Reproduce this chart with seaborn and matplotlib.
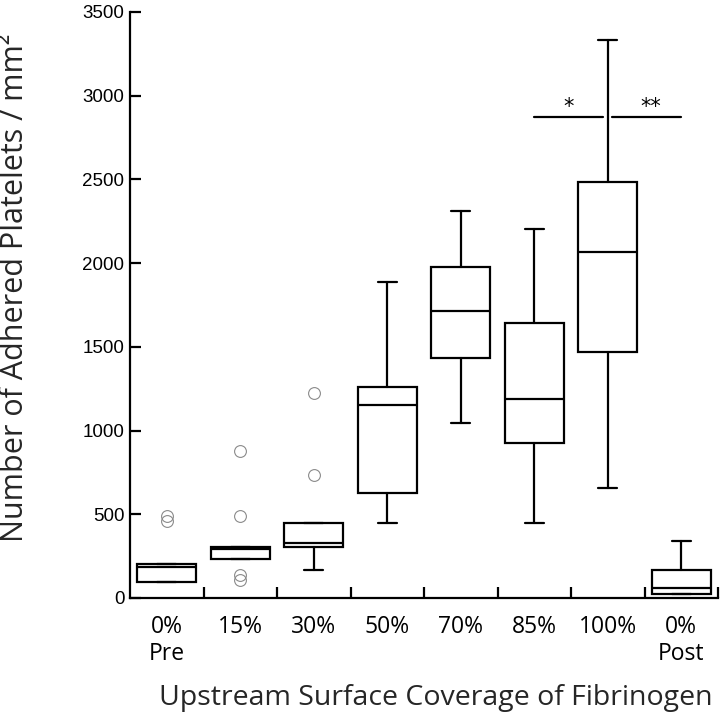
import matplotlib
matplotlib.use('Agg')
import matplotlib.pyplot as plt
import seaborn as sns

# Box summaries (platelets / mm^2)
categories = ["0%\nPre", "15%", "30%", "50%", "70%", "85%", "100%", "0%\nPost"]
whisker_low = [96, 235, 167, 448, 1045, 448, 659, 26]
q1 = [96, 235, 307, 625, 1432, 924, 1468, 26]
median = [185, 291, 327, 1153, 1714, 1187, 2065, 62]
q3 = [203, 307, 448, 1259, 1979, 1645, 2487, 165]
whisker_high = [203, 307, 448, 1890, 2312, 2204, 3331, 340]
outliers = [[462, 490], [107, 137, 490, 875], [735, 1225], [], [], [], [], []]

# significance comparisons: (from group, to group, level, label)
comparisons = [(5, 6, 2870, "*"), (6, 7, 2870, "**")]

y_ticks = [0, 500, 1000, 1500, 2000, 2500, 3000, 3500]

sns.set_style("ticks", {"axes.edgecolor": "black", "text.color": "black",
                        "xtick.color": "black", "ytick.color": "black"})
plt.rcParams['font.family'] = ['Open Sans', 'DejaVu Sans']

fig = plt.figure(figsize=(7.2, 7.15), dpi=100)
ax = fig.add_axes([130 / 720, 1 - 598 / 715, 588 / 720, 586 / 715])

stats = []
for i, name in enumerate(categories):
    stats.append({
        "label": name, "whislo": whisker_low[i], "q1": q1[i], "med": median[i],
        "q3": q3[i], "whishi": whisker_high[i], "fliers": outliers[i],
    })

positions = list(range(len(categories)))
ax.bxp(stats, positions=positions, widths=0.8, capwidths=0.26, patch_artist=True,
       boxprops=dict(facecolor="white", edgecolor="black", linewidth=1.6),
       medianprops=dict(color="black", linewidth=1.6),
       whiskerprops=dict(color="black", linewidth=1.6),
       capprops=dict(color="black", linewidth=1.6),
       flierprops=dict(marker="o", markersize=8.5, markerfacecolor="none",
                       markeredgecolor="#8a8a8a", markeredgewidth=0.8))

# significance bars
gap = 0.06
for a, b, level, label in comparisons:
    x0 = a if a < 6 else a + gap
    x1 = b - gap if b == 6 else b
    ax.plot([x0, x1], [level, level], color="black", lw=1.6)
    ax.text((x0 + x1) / 2 + (0.05 if len(label) > 1 else 0), level + 5, label,
            ha="center", va="bottom", fontsize=15, family="DejaVu Sans")

ax.set_xlim(-0.5, len(categories) - 0.5)
ax.set_ylim(0, 3500)
ax.set_yticks(y_ticks)
ax.set_yticklabels([str(t) for t in y_ticks], family="Liberation Sans", fontsize=13.5)

# tick marks between groups, labels at group centres
ax.set_xticks([p + 0.5 for p in positions])
ax.set_xticklabels([])
ax.set_xticks(positions, minor=True)
ax.set_xticklabels(categories, minor=True, fontsize=16.5, linespacing=1.2)
ax.tick_params(axis="x", which="minor", length=0, pad=12)
ax.tick_params(axis="x", which="major", direction="in", length=8, width=1.6)
ax.tick_params(axis="y", direction="in", length=8, width=1.6, pad=4)

sns.despine(ax=ax)
for side in ["left", "bottom"]:
    ax.spines[side].set_linewidth(1.6)

ax.set_ylabel("Number of Adhered Platelets / mm²", fontsize=22, va="baseline")
ax.yaxis.set_label_coords(-0.1825, 0.53)
ax.set_xlabel("Upstream Surface Coverage of Fibrinogen", fontsize=20.5, va="baseline")
ax.xaxis.set_label_coords(0.52, -0.183)

fig.savefig("out.png", dpi=100)
